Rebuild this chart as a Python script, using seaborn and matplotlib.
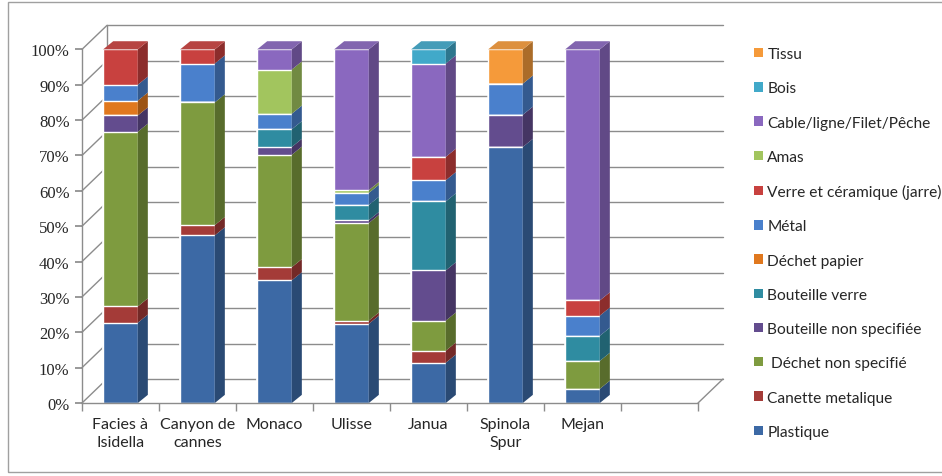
import numpy as np
import pandas as pd
import matplotlib
matplotlib.use("Agg")
import matplotlib.pyplot as plt
import matplotlib.colors as mcolors
from matplotlib.patches import Polygon, Patch, Rectangle
import seaborn as sns

# Data (% of items per site)
sites = ["Facies à\nIsidella", "Canyon de\ncannes", "Monaco", "Ulisse", "Janua", "Spinola\nSpur", "Mejan"]
categories = ["Plastique", "Canette metalique", " Déchet non specifié", "Bouteille non specifiée",
              "Bouteille verre", "Déchet papier", "Métal", "Verre et céramique (jarre)", "Amas",
              "Cable/ligne/Filet/Pêche", "Bois", "Tissu"]

plastique = [22.7, 47.4, 34.7, 22.4, 11.4, 72.4, 4.0]
canette = [4.6, 2.9, 3.7, 0.9, 3.4, 0.0, 0.0]
dechet_non_spec = [49.4, 34.7, 31.8, 27.6, 8.5, 0.0, 7.9]
bouteille_non_spec = [4.6, 0.0, 2.2, 0.8, 14.2, 9.1, 0.0]
bouteille_verre = [0.0, 0.0, 5.0, 4.3, 19.5, 0.0, 7.1]
dechet_papier = [4.2, 0.0, 0.0, 0.0, 0.0, 0.0, 0.0]
metal = [4.5, 11.0, 4.4, 3.4, 6.0, 8.8, 5.7]
verre_ceramique = [10.0, 4.0, 0.0, 0.0, 6.6, 0.0, 4.3]
amas = [0.0, 0.0, 12.5, 0.8, 0.0, 0.0, 0.0]
cable = [0.0, 0.0, 5.7, 39.8, 26.4, 0.0, 71.0]
bois = [0.0, 0.0, 0.0, 0.0, 4.0, 0.0, 0.0]
tissu = [0.0, 0.0, 0.0, 0.0, 0.0, 9.7, 0.0]

colors = ["#3C69A5", "#A43B38", "#7E9B3F", "#634C8E", "#2F8CA1", "#E0781E",
          "#4A80CC", "#C8413F", "#A2C55E", "#8A68BF", "#41A9C9", "#F59A3A"]

values = np.array([plastique, canette, dechet_non_spec, bouteille_non_spec, bouteille_verre,
                   dechet_papier, metal, verre_ceramique, amas, cable, bois, tissu])
tops = values.cumsum(axis=0)
bottoms = tops - values

sns.set_theme(style="white")
plt.rcParams['font.family'] = ['Lato', 'DejaVu Sans']

fig = plt.figure(figsize=(9.42, 4.77), dpi=100)
W, H = 942, 477
ax = fig.add_axes([82 / W, 73 / H, 616 / W, 389 / H])
ax.set_facecolor("none")

grid_c = "#8c8c8c"
ox, oy = 0.325, 6.8      # back wall offset (data units)
dx, dy = 0.13, 2.3       # bar depth offset
bw = 0.45

# back wall gridlines + left diagonals + floor
for t in range(0, 101, 10):
    ax.plot([-0.5 + ox, 7.5 + ox], [t + oy, t + oy], color=grid_c, lw=1, zorder=0.5, clip_on=False)
    ax.plot([-0.5, -0.5 + ox], [t, t + oy], color=grid_c, lw=1, zorder=0.5, clip_on=False)
ax.plot([-0.5 + ox, -0.5 + ox], [oy, 100 + oy], color=grid_c, lw=1, zorder=0.5, clip_on=False)
ax.plot([7.5, 7.5 + ox], [0, oy], color=grid_c, lw=1, zorder=0.5, clip_on=False)

# stacked bars: draw cumulative heights from top layer down
for j in range(len(categories) - 1, -1, -1):
    df = pd.DataFrame({"site": sites, "top": tops[j]})
    sns.barplot(data=df, x="site", y="top", color=colors[j], saturation=1,
                width=bw, ax=ax, order=sites, zorder=2)

# side and top faces for the 3D look
for i in range(len(sites)):
    xr = i + bw / 2
    xl = i - bw / 2
    for j in range(len(categories)):
        if values[j, i] <= 0:
            continue
        side = mcolors.to_rgb(colors[j])
        side = tuple(c * 0.7 for c in side)
        b, t = bottoms[j, i], tops[j, i]
        ax.add_patch(Polygon([(xr, b), (xr + dx, b + dy), (xr + dx, t + dy), (xr, t)],
                             closed=True, facecolor=side, edgecolor="none", zorder=3))
    jt = max(j for j in range(len(categories)) if values[j, i] > 0)
    top_c = tuple(min(1, c * 0.85 + 0.05) for c in mcolors.to_rgb(colors[jt]))
    t = tops[jt, i]
    ax.add_patch(Polygon([(xl, t), (xr, t), (xr + dx, t + dy), (xl + dx, t + dy)],
                         closed=True, facecolor=top_c, edgecolor="none", zorder=3))

ax.set_xlim(-0.5, 7.5)
ax.set_ylim(0, 110)
ax.set_xlabel("")
ax.set_ylabel("")

ax.set_yticks(range(0, 101, 10))
ax.set_yticklabels([f"{t}%" for t in range(0, 101, 10)], family=["Liberation Serif"], fontsize=12)
ax.set_xticks(range(len(sites)))
ax.set_xticklabels(sites, fontsize=11.5, linespacing=1.4)
ax.set_xticks(np.arange(-0.5, 8.0, 1.0), minor=True)
ax.tick_params(axis="x", which="major", length=0, pad=10)
ax.tick_params(axis="x", which="minor", length=6, color=grid_c, direction="out", bottom=True)
ax.tick_params(axis="y", length=5, color=grid_c, direction="out", left=True, pad=4)

for s in ["top", "right"]:
    ax.spines[s].set_visible(False)
ax.spines["left"].set_bounds(0, 100)
for s in ["left", "bottom"]:
    ax.spines[s].set_color(grid_c)
    ax.spines[s].set_linewidth(1)
ax.grid(False)

handles = [Patch(facecolor=colors[j], edgecolor="none", label=categories[j])
           for j in range(len(categories) - 1, -1, -1)]
fig.legend(handles=handles, loc="upper left", bbox_to_anchor=(748 / W, 1 - 42 / H),
           frameon=False, fontsize=11.2, handlelength=0.55, handleheight=0.55,
           handletextpad=0.3, labelspacing=1.30, borderaxespad=0)

fig.patches.append(Rectangle((8 / W, 1 - 473 / H), 1.0, 470 / H, transform=fig.transFigure,
                             fill=False, edgecolor="#a0a0a0", lw=1))

fig.savefig("out.png", dpi=100)
